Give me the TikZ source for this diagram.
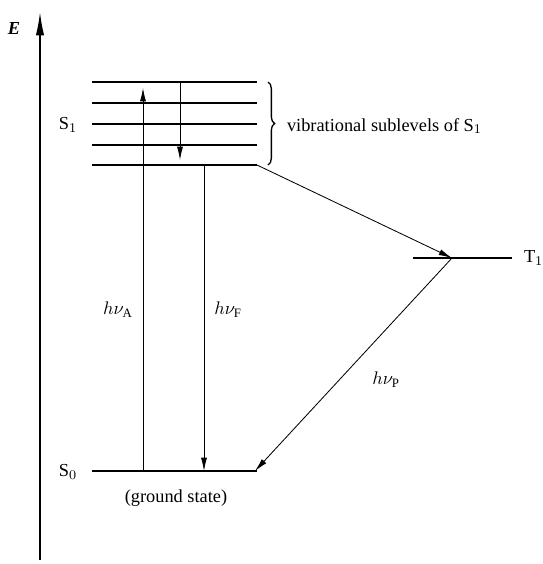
\documentclass[tikz,border=0pt]{standalone}
\usepackage{fontspec}
\setmainfont{Liberation Serif}
\usetikzlibrary{arrows.meta}
\usetikzlibrary{decorations.pathreplacing}
\usetikzlibrary{positioning}

\begin{document}
\begin{tikzpicture}[
  x=0.6pt, y=-0.6pt,
  every node/.style={font=\fontsize{11}{13}\selectfont, inner sep=1pt},
  level/.style={line width=1.3pt},
  trans/.style={line width=0.5pt, -{Latex[length=8pt,width=3.6pt]}}
]
  \useasboundingbox (0,0) rectangle (542,564);

  % energy axis
  \coordinate (axisbot) at (40,560);
  \coordinate (axistop) at (40,12);
  \draw[line width=0.9pt, -{Latex[length=14pt,width=5pt]}] (axisbot) -- (axistop);
  \node (E) at (14,28) {\bfseries\itshape E};

  % S1 and its vibrational sublevels
  \foreach \y/\n in {82/a, 103/b, 124/c, 145/d, 165/e} {
    \coordinate (s1\n l) at (92,\y);
    \coordinate (s1\n r) at (257,\y);
    \draw[level] (s1\n l) -- (s1\n r);
  }
  \node (S1) at (68,125) {S$_1$};
  \draw[decorate, decoration={brace, amplitude=4pt}, line width=0.8pt]
    (268,82) -- (268,165) coordinate[midway] (bracemid);
  \node[anchor=west] (vib) at (285,126) {vibrational sublevels of S$_1$};

  % T1
  \coordinate (t1l) at (413,258);
  \coordinate (t1r) at (512,258);
  \coordinate (t1m) at (452,258);
  \draw[level] (t1l) -- (t1r);
  \node[right=6pt of t1r] (T1) {T$_1$};

  % S0
  \coordinate (s0l) at (92,471);
  \coordinate (s0r) at (257,471);
  \draw[level] (s0l) -- (s0r);
  \node (S0) at (68,472) {S$_0$};
  \node (ground) at (176,498) {(ground state)};

  % transitions
  \coordinate (absbot) at (143,471);
  \coordinate (abstop) at (143,88);
  \draw[trans] (absbot) -- (abstop);
  \coordinate (relaxtop) at (180,82);
  \coordinate (relaxbot) at (180,160);
  \draw[trans] (relaxtop) -- (relaxbot);
  \coordinate (fltop) at (204,165);
  \coordinate (flbot) at (204,471);
  \draw[trans] (fltop) -- (flbot);
  \draw[trans] (s1er) -- (t1m);
  \draw[trans] (t1m) -- (255,471);

  \node (hvA) at (118,310) {$h\nu_{\mathrm{A}}$};
  \node (hvF) at (228,310) {$h\nu_{\mathrm{F}}$};
  \node (hvP) at (386,380) {$h\nu_{\mathrm{P}}$};
\end{tikzpicture}
\end{document}
